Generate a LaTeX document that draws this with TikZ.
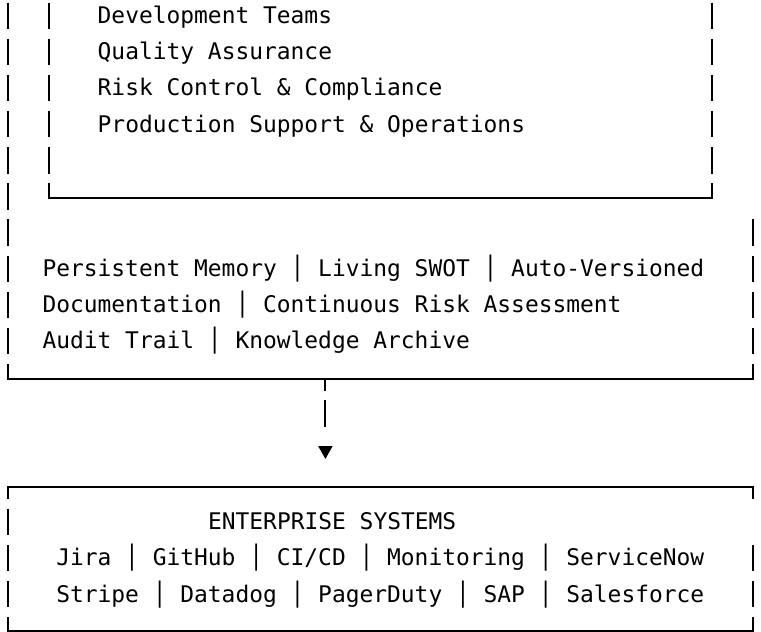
\documentclass[tikz,border=0pt]{standalone}
\usepackage{fontspec}
\newfontfamily\monofont{DejaVu Sans Mono}
\usetikzlibrary{arrows.meta}
\begin{document}
\begin{tikzpicture}[x=1pt,y=-1pt,
  txt/.style={font=\monofont\fontsize{22.9pt}{36pt}\selectfont, anchor=base west, inner sep=0pt, outer sep=0pt, text=black},
  hrule/.style={line width=2.1pt, line cap=rect},
  vrule/.style={line width=2.1pt, dash pattern=on 26.5pt off 9.65pt},
  vrulephase/.style={line width=2.1pt, dash pattern=on 26.5pt off 9.65pt, dash phase=14.8pt},
  vruleskip/.style={line width=2.1pt, dash pattern=on 11.7pt off 45.8pt on 26.5pt off 9.65pt on 26.5pt off 9.65pt on 26.5pt off 9.65pt},
  flowline/.style={line width=2.1pt, dash pattern=on 11.7pt off 9.65pt on 26.5pt off 200pt, -{Triangle[length=13pt,width=14pt]}},
]
\useasboundingbox (0,0) rectangle (761,632);
\fill[white] (0,0) rectangle (761,632);

% key points of the boxes
\coordinate (mTL) at (8,2.5);
\coordinate (mBL) at (8,378.8);
\coordinate (mBR) at (753.2,378.8);
\coordinate (mRT) at (753.2,219.4);
\coordinate (iTL) at (49.4,2.5);
\coordinate (iBL) at (49.4,198.05);
\coordinate (iBR) at (711.9,198.05);
\coordinate (iTR) at (711.9,2.5);
\coordinate (bTL) at (8,487.25);
\coordinate (bTR) at (753.2,487.25);
\coordinate (bBL) at (8,630.8);
\coordinate (bBR) at (753.2,630.8);
\coordinate (junc) at (325.4,378.8);
\coordinate (tipEnd) at (325.4,459);

% inner box (teams)
\draw[vrule] (iTL) -- (iBL);
\draw[vrule] (iTR) -- (iBR);
\draw[hrule] (iBL) -- (iBR);

% middle box
\draw[vrule] (mTL) -- (mBL);
\draw[vrule] (mRT) -- (mBR);
\draw[hrule] (mBL) -- (mBR);

% bottom box
\draw[hrule] (bTL) -- (bTR);
\draw[vrulephase] (bTL) -- (bBL);
\draw[vruleskip] (bTR) -- (bBR);
\draw[hrule] (bBL) -- (bBR);

% connector
\draw[flowline] (junc) -- (tipEnd);

% texts
\node[txt] (dev)  at (97.7,23.6)  {Development Teams};
\node[txt] (qa)   at (97.7,59.75) {Quality Assurance};
\node[txt] (risk) at (97.7,95.9)  {Risk Control \& Compliance};
\node[txt] (prod) at (97.7,132.05) {Production Support \& Operations};

\node[txt] (mem1) at (42.5,276.65) {Persistent Memory │ Living SWOT │ Auto-Versioned};
\node[txt] (mem2) at (42.5,312.8)  {Documentation │ Continuous Risk Assessment};
\node[txt] (mem3) at (42.5,348.95) {Audit Trail │ Knowledge Archive};

\node[txt] (ent)  at (208.1,529.7) {ENTERPRISE SYSTEMS};
\node[txt] (ent1) at (56.3,565.85) {Jira │ GitHub │ CI/CD │ Monitoring │ ServiceNow};
\node[txt] (ent2) at (56.3,602.0)  {Stripe │ Datadog │ PagerDuty │ SAP │ Salesforce};
\end{tikzpicture}
\end{document}
